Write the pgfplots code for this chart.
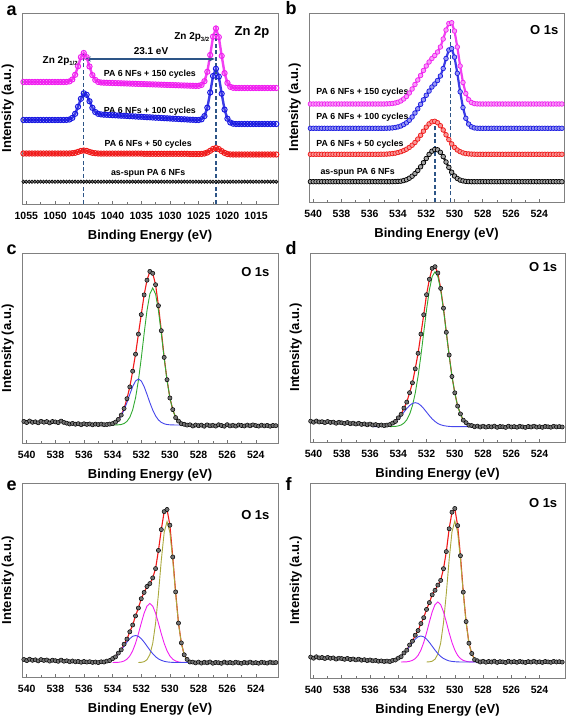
\documentclass[border=0pt]{standalone}
\usepackage{fontspec}
\setmainfont{Liberation Sans}
\usepackage{pgfplots}
\pgfplotsset{compat=1.18}
\usepackage{pgfplotstable}
\usetikzlibrary{arrows.meta}

\definecolor{cmag}{RGB}{240,30,240}
\definecolor{cblue}{RGB}{25,25,225}
\definecolor{cred}{RGB}{240,25,25}
\definecolor{cgreen}{RGB}{50,170,50}
\definecolor{colive}{RGB}{170,168,60}
\definecolor{ccomp}{RGB}{70,70,235}
\definecolor{cdash}{RGB}{45,85,135}

\newcommand{\fA}{\bfseries\fontsize{8.8}{10}\selectfont}
\newcommand{\fB}{\bfseries\fontsize{13}{15}\selectfont}
\newcommand{\fZ}{\bfseries\fontsize{10}{12}\selectfont}
\newcommand{\fL}{\bfseries\fontsize{18}{18}\selectfont}
\newcommand{\sub}[1]{\raisebox{-0.45ex}{\fontsize{6}{6}\selectfont #1}}

\pgfplotsset{
  xps/.style={
    scale only axis, x dir=reverse, ymin=0, ytick=\empty,
    axis line style={draw=black!50, line width=0.9pt},
    tick style={black!55, line width=0.6pt},
    xtick pos=lower, tick align=inside, major tick length=3pt, minor tick length=1.8pt,
    minor x tick num=1,
    xticklabel style={font=\bfseries\fontsize{10.5}{12}\selectfont, anchor=center, yshift=-12pt},
    /pgf/number format/assume math mode=true,
    /pgf/number format/1000 sep={},
    xlabel={Binding Energy (eV)}, ylabel={Intensity (a.u.)},
    label style={font=\bfseries\fontsize{13}{15}\selectfont},
    xlabel style={at={(axis description cs:0.5,0)}, anchor=center, yshift=-32pt},
    ylabel style={at={(axis description cs:-0.056,0.5)}, anchor=center},
  },
  o1s/.style={xps, xtick={540,538,...,524}},
  dots/.style={only marks, mark=*, mark size=2.1pt, mark options={draw=black, fill=black!55, line width=0.5pt}},
  fit/.style={cred, line width=1.1pt},
  comp/.style={line width=0.9pt},
  bandA/.style={draw=#1!85, line width=2.4pt, mark=o, mark size=2.6pt, mark options={draw=#1, line width=1.0pt}},
  bandB/.style={draw=#1!85, line width=2.2pt, mark=*, mark size=2.3pt, mark options={draw=#1, fill=#1!45, line width=0.7pt}},
}

% ---------- panel a ----------
\pgfplotstableread{
x k r b m
1055.5 22.3 50.5 84.0 122.0
1055.0 22.3 50.5 84.0 122.0
1054.5 22.3 50.5 84.0 122.0
1054.0 22.3 50.5 84.0 122.0
1053.5 22.3 50.5 84.0 122.0
1053.0 22.3 50.5 84.0 122.0
1052.5 22.3 50.5 84.0 122.0
1052.0 22.3 50.5 84.0 122.0
1051.5 22.3 50.5 84.0 122.0
1051.0 22.3 50.5 84.0 122.0
1050.5 22.3 50.5 84.0 122.0
1050.0 22.3 50.5 84.0 122.0
1049.5 22.3 50.5 84.0 122.0
1049.0 22.3 50.5 84.0 122.0
1048.5 22.3 50.5 84.0 122.0
1048.0 22.3 50.5 84.1 122.1
1047.5 22.3 50.5 84.5 122.6
1047.0 22.3 50.8 86.1 124.5
1046.5 22.3 51.2 90.2 129.2
1046.0 22.3 52.1 97.3 137.7
1045.5 22.3 53.1 105.2 146.9
1045.0 22.3 53.5 110.7 151.0
1044.5 22.3 53.1 109.2 146.8
1044.0 22.3 52.1 102.8 137.5
1043.5 22.3 51.2 96.2 128.9
1043.0 22.3 50.8 92.0 124.1
1042.5 22.3 50.5 90.2 122.1
1042.0 22.3 50.4 89.6 121.5
1041.5 22.3 50.4 89.3 121.3
1041.0 22.3 50.4 89.2 121.2
1040.5 22.3 50.4 89.0 121.1
1040.0 22.3 50.4 88.8 121.0
1039.5 22.3 50.4 88.7 120.9
1039.0 22.3 50.4 88.5 120.8
1038.5 22.3 50.4 88.3 120.7
1038.0 22.3 50.4 88.2 120.6
1037.5 22.3 50.4 88.0 120.5
1037.0 22.3 50.4 87.8 120.4
1036.5 22.3 50.4 87.7 120.3
1036.0 22.3 50.4 87.5 120.2
1035.5 22.3 50.4 87.3 120.1
1035.0 22.3 50.4 87.2 120.0
1034.5 22.3 50.2 87.0 119.9
1034.0 22.3 50.2 86.8 119.8
1033.5 22.3 50.2 86.7 119.7
1033.0 22.3 50.2 86.5 119.6
1032.5 22.3 50.2 86.3 119.5
1032.0 22.3 50.2 86.2 119.4
1031.5 22.3 50.2 86.0 119.3
1031.0 22.3 50.2 85.8 119.2
1030.5 22.3 50.2 85.7 119.1
1030.0 22.3 50.2 85.5 119.0
1029.5 22.3 50.2 85.3 118.9
1029.0 22.3 50.2 85.2 118.8
1028.5 22.3 50.2 85.0 118.7
1028.0 22.3 50.2 84.8 118.6
1027.5 22.3 50.2 84.7 118.5
1027.0 22.3 50.2 84.5 118.4
1026.5 22.3 50.0 84.3 118.3
1026.0 22.3 50.0 84.2 118.2
1025.5 22.3 50.0 84.0 118.1
1025.0 22.3 50.0 84.0 118.2
1024.5 22.3 50.1 84.7 119.1
1024.0 22.3 50.5 87.9 122.8
1023.5 22.3 51.5 96.3 132.2
1023.0 22.3 53.2 111.5 149.0
1022.5 22.3 55.1 128.0 167.3
1022.0 22.3 55.9 135.2 175.5
1021.5 22.3 54.9 127.4 166.9
1021.0 22.3 52.9 110.3 148.1
1020.5 22.3 51.1 94.4 130.9
1020.0 22.3 50.0 85.3 121.1
1019.5 22.3 49.6 81.5 117.2
1019.0 22.3 49.5 80.3 116.2
1018.5 22.3 49.5 80.0 116.0
1018.0 22.3 49.5 80.0 116.0
1017.5 22.3 49.5 80.0 116.0
1017.0 22.3 49.5 80.0 116.0
1016.5 22.3 49.5 80.0 116.0
1016.0 22.3 49.5 80.0 116.0
1015.5 22.3 49.5 80.0 116.0
1015.0 22.3 49.5 80.0 116.0
1014.5 22.3 49.5 80.0 116.0
1014.0 22.3 49.5 80.0 116.0
1013.5 22.3 49.5 80.0 116.0
1013.0 22.3 49.5 80.0 116.0
1012.5 22.3 49.5 80.0 116.0
1012.0 22.3 49.5 80.0 116.0
1011.5 22.3 49.5 80.0 116.0
}\tabA

% ---------- panel b ----------
\pgfplotstableread{
x k r b m
540.2 20.3 47.7 73.7 98.0
540.0 20.3 47.7 73.7 98.0
539.8 20.3 47.7 73.7 98.0
539.6 20.3 47.7 73.7 98.0
539.4 20.3 47.7 73.7 98.0
539.2 20.3 47.7 73.7 98.0
539.0 20.3 47.7 73.7 98.0
538.8 20.3 47.7 73.7 98.0
538.6 20.3 47.7 73.7 98.0
538.4 20.3 47.7 73.7 98.0
538.2 20.3 47.7 73.7 98.0
538.0 20.3 47.7 73.7 98.0
537.8 20.3 47.7 73.7 98.0
537.6 20.3 47.7 73.7 98.0
537.4 20.3 47.7 73.7 98.0
537.2 20.3 47.7 73.7 98.0
537.0 20.3 47.7 73.7 98.0
536.8 20.3 47.7 73.7 98.0
536.6 20.3 47.7 73.7 98.0
536.4 20.3 47.7 73.7 98.0
536.2 20.3 47.7 73.7 98.0
536.0 20.3 47.7 73.7 98.0
535.8 20.3 47.7 73.7 98.0
535.6 20.3 47.7 73.7 98.0
535.4 20.3 47.7 73.7 98.0
535.2 20.3 47.8 73.7 98.0
535.0 20.3 47.8 73.7 98.0
534.8 20.3 47.9 73.8 98.1
534.6 20.3 48.1 73.9 98.2
534.4 20.3 48.4 74.1 98.5
534.2 20.4 48.8 74.5 99.0
534.0 20.6 49.5 75.1 99.8
533.8 20.8 50.3 76.0 101.0
533.6 21.4 51.4 77.4 103.0
533.4 22.3 52.8 79.2 105.5
533.2 23.8 54.6 81.7 109.0
533.0 25.8 56.8 85.0 113.0
532.8 28.4 59.5 89.0 117.5
532.6 31.5 62.9 93.2 122.0
532.4 35.2 66.7 97.7 126.5
532.2 39.3 70.8 102.2 131.5
532.0 43.5 74.8 106.7 136.0
531.8 47.6 78.1 110.9 140.0
531.6 50.8 80.2 115.0 143.5
531.4 52.5 80.7 118.0 146.5
531.2 52.2 79.3 121.5 150.0
531.0 49.7 76.3 126.0 155.0
530.8 45.4 72.0 133.5 163.0
530.6 40.0 67.2 143.5 172.0
530.4 34.6 62.4 152.0 178.5
530.2 29.8 58.1 153.4 179.3
530.0 26.0 54.6 144.9 171.0
529.8 23.5 52.0 128.7 155.0
529.6 21.9 50.3 110.2 136.0
529.4 21.1 49.1 94.4 119.5
529.2 20.6 48.4 83.7 108.5
529.0 20.4 48.1 77.9 102.3
528.8 20.3 47.9 75.2 99.5
528.6 20.3 47.8 74.1 98.4
528.4 20.3 47.7 73.8 98.1
528.2 20.3 47.7 73.7 98.0
528.0 20.3 47.7 73.7 98.0
527.8 20.3 47.7 73.7 98.0
527.6 20.3 47.7 73.7 98.0
527.4 20.3 47.7 73.7 98.0
527.2 20.3 47.7 73.7 98.0
527.0 20.3 47.7 73.7 98.0
526.8 20.3 47.7 73.7 98.0
526.6 20.3 47.7 73.7 98.0
526.4 20.3 47.7 73.7 98.0
526.2 20.3 47.7 73.7 98.0
526.0 20.3 47.7 73.7 98.0
525.8 20.3 47.7 73.7 98.0
525.6 20.3 47.7 73.7 98.0
525.4 20.3 47.7 73.7 98.0
525.2 20.3 47.7 73.7 98.0
525.0 20.3 47.7 73.7 98.0
524.8 20.3 47.7 73.7 98.0
524.6 20.3 47.7 73.7 98.0
524.4 20.3 47.7 73.7 98.0
524.2 20.3 47.7 73.7 98.0
524.0 20.3 47.7 73.7 98.0
523.8 20.3 47.7 73.7 98.0
523.6 20.3 47.7 73.7 98.0
523.4 20.3 47.7 73.7 98.0
523.2 20.3 47.7 73.7 98.0
523.0 20.3 47.7 73.7 98.0
522.8 20.3 47.7 73.7 98.0
522.6 20.3 47.7 73.7 98.0
522.4 20.3 47.7 73.7 98.0
}\tabB

% ---------- panels c-f (measured data) ----------
\pgfplotstableread{
x c d e f
540.2 21.6 20.8 17.5 20.9
540.0 20.5 19.8 16.4 19.8
539.8 22.0 21.0 17.8 21.2
539.6 20.7 20.0 16.7 20.1
539.4 21.2 20.3 17.2 20.5
539.2 20.2 19.4 16.1 19.5
539.0 21.7 20.5 17.4 20.6
538.8 20.8 19.6 16.6 19.7
538.6 21.4 19.9 17.0 20.1
538.4 20.1 18.8 15.9 18.9
538.2 21.5 19.7 16.8 19.8
538.0 21.1 19.2 16.3 19.4
537.8 20.4 18.6 15.7 18.7
537.6 21.9 19.5 16.9 19.6
537.4 20.6 18.3 15.8 18.5
537.2 19.8 18.8 16.2 19.0
537.0 19.0 18.0 15.3 18.1
536.8 19.6 18.7 16.0 18.8
536.6 18.8 17.6 15.2 17.8
536.4 19.3 18.1 15.6 18.3
536.2 18.3 17.2 14.8 17.4
536.0 19.2 17.9 15.5 18.0
535.8 18.6 17.0 14.9 17.2
535.6 19.0 17.4 15.3 17.6
535.4 18.2 16.6 14.6 16.8
535.2 18.9 17.0 15.0 17.1
535.0 18.4 16.4 14.4 16.5
534.8 18.9 16.9 15.2 16.9
534.6 18.3 17.4 15.0 16.4
534.4 18.5 18.9 15.9 17.6
534.2 18.9 20.6 16.5 18.0
534.0 19.4 24.2 18.4 19.9
533.8 20.9 27.7 20.1 21.3
533.6 23.6 33.9 23.9 25.0
533.4 27.9 39.9 27.2 27.8
533.2 34.5 49.3 32.8 33.0
533.0 44.3 59.2 37.9 36.8
532.8 56.1 73.2 45.2 42.8
532.6 71.8 88.7 52.0 47.5
532.4 88.8 107.9 61.1 54.4
532.2 108.9 127.2 69.0 60.3
532.0 128.4 147.3 78.3 68.6
531.8 148.1 162.7 84.6 75.4
531.6 162.8 173.7 90.5 83.2
531.4 171.6 175.3 93.4 87.7
531.2 169.7 169.0 99.1 92.9
531.0 158.3 153.6 108.4 97.6
530.8 137.3 133.8 126.6 109.3
530.6 112.3 109.7 147.4 126.4
530.4 85.6 87.0 165.4 149.2
530.2 63.3 65.5 167.5 165.8
530.0 45.0 49.2 151.8 169.5
529.8 33.4 35.9 120.0 152.4
529.6 25.4 28.1 85.1 122.3
529.4 21.9 21.8 53.9 85.9
529.2 19.3 19.3 34.1 56.4
529.0 18.7 16.8 22.2 34.8
528.8 17.9 16.4 17.6 24.5
528.6 18.2 15.3 15.0 18.4
528.4 17.0 15.9 14.9 17.2
528.2 18.0 15.0 14.1 16.0
528.0 17.3 15.8 14.9 16.7
527.8 17.9 14.9 13.9 15.8
527.6 16.8 15.6 14.7 16.5
527.4 18.1 15.1 14.2 16.0
527.2 17.2 15.9 15.0 16.8
527.0 17.7 14.7 13.8 15.6
526.8 16.9 15.5 14.6 16.4
526.6 18.2 15.2 14.3 16.1
526.4 17.5 14.6 13.7 15.5
526.2 16.8 15.8 14.9 16.7
526.0 18.3 15.0 14.1 15.9
525.8 17.1 15.4 14.6 16.4
525.6 17.7 14.8 13.9 15.7
525.4 16.9 15.7 14.8 16.6
525.2 18.0 15.1 14.2 16.0
525.0 17.5 14.6 13.7 15.5
524.8 17.0 15.5 14.6 16.4
524.6 17.9 15.0 14.1 15.9
524.4 17.2 15.8 14.9 16.7
524.2 18.1 14.9 14.0 15.8
524.0 17.4 15.3 14.4 16.2
523.8 16.9 14.7 13.8 15.6
523.6 17.8 15.6 14.7 16.5
523.4 17.1 15.2 14.3 16.1
523.2 17.6 14.8 13.9 15.7
523.0 16.8 15.7 14.8 16.6
522.8 17.5 15.1 14.2 16.0
522.6 17.3 15.4 14.5 16.3
522.4 17.3 15.0 14.5 15.9
}\tabO

\begin{document}
\begin{tikzpicture}
\useasboundingbox (0pt,0pt) rectangle (567pt,721pt);

% ===== a =====
\begin{axis}[xps, at={(22pt,517pt)}, anchor=south west, width=256pt, height=191pt,
  xmin=1011.2, xmax=1055.75, ymax=191, xtick={1055,1050,...,1015}]
\addplot[black, line width=0.6pt, mark=*, mark size=1.7pt, mark options={draw=black, fill=black!50}] table[x=x,y=k]{\tabA};
\addplot[bandA=cred] table[x=x,y=r]{\tabA};
\addplot[bandA=cblue] table[x=x,y=b]{\tabA};
\addplot[bandA=cmag] table[x=x,y=m]{\tabA};
\draw[cdash, line width=1.2pt, dash pattern=on 4pt off 2.5pt] (axis cs:1045,0) -- (axis cs:1045,150);
\draw[cdash, line width=1.2pt, dash pattern=on 4pt off 2.5pt] (axis cs:1022,0) -- (axis cs:1022,170);
\draw[cdash, line width=1.1pt, {Stealth[length=6pt,width=5pt]}-{Stealth[length=6pt,width=5pt]}] (axis cs:1044.8,145) -- (axis cs:1022.2,145);
\node[font=\fZ] at (axis cs:1033.3,152.5) {23.1 eV};
\node[font=\fB, anchor=east] at (axis cs:1012.1,172) {Zn 2p};
\node[font=\fZ] at (axis cs:1026.2,167) {Zn 2p\sub{3/2}};
\node[font=\fZ] at (axis cs:1049.1,143) {Zn 2p\sub{1/2}};
\node[font=\fA] at (axis cs:1033.5,130) {PA 6 NFs + 150 cycles};
\node[font=\fA] at (axis cs:1033.5,93) {PA 6 NFs + 100 cycles};
\node[font=\fA] at (axis cs:1033.8,60) {PA 6 NFs + 50 cycles};
\node[font=\fA] at (axis cs:1033.8,31) {as-spun PA 6 NFs};
\end{axis}

% ===== b =====
\begin{axis}[o1s, at={(309pt,519pt)}, anchor=south west, width=255pt, height=189pt,
  xmin=522.25, xmax=540.3, ymax=189]
\addplot[draw=black!85, line width=2.2pt, mark=*, mark size=2.3pt, mark options={draw=black, fill=black!35, line width=0.7pt}] table[x=x,y=k]{\tabB};
\addplot[bandB=cred] table[x=x,y=r]{\tabB};
\addplot[bandB=cblue] table[x=x,y=b]{\tabB};
\addplot[bandB=cmag] table[x=x,y=m]{\tabB};
\draw[cdash, line width=1.2pt, dash pattern=on 4pt off 2.5pt] (axis cs:531.38,0) -- (axis cs:531.38,80);
\draw[cdash, line width=1.2pt, dash pattern=on 4pt off 2.5pt] (axis cs:530.27,0) -- (axis cs:530.27,180);
\node[font=\fB, anchor=east] at (axis cs:522.4,172) {O 1s};
\node[font=\fA, anchor=west] at (axis cs:540.02,110) {PA 6 NFs + 150 cycles};
\node[font=\fA, anchor=west] at (axis cs:540.02,84.5) {PA 6 NFs + 100 cycles};
\node[font=\fA, anchor=west] at (axis cs:540.02,57.5) {PA 6 NFs + 50 cycles};
\node[font=\fA, anchor=west] at (axis cs:539.73,30) {as-spun PA 6 NFs};
\end{axis}

% ===== c =====
\begin{axis}[o1s, at={(22pt,278pt)}, anchor=south west, width=256pt, height=190pt,
  xmin=522.45, xmax=540.33, ymax=190]
\addplot[dots] table[x=x,y=c]{\tabO};
\addplot[fit] table[x=x,y=c]{\tabO};
\addplot[comp, cgreen] table{
534.4 18.0
533.8 18.0
533.6 18.2
533.4 18.5
533.2 19.5
533.0 21.6
532.8 25.7
532.6 33.1
532.4 45.1
532.2 62.5
532.0 84.7
531.8 109.4
531.6 132.4
531.4 149.0
531.2 155.0
531.0 149.0
530.8 132.4
530.6 109.4
530.4 84.7
530.2 62.5
530.0 45.1
529.8 33.1
529.6 25.7
529.4 21.6
529.2 19.5
529.0 18.5
528.8 18.2
528.6 18.0
528.2 18.0
};
\addplot[comp, ccomp] table{
535.6 18.0
534.8 18.0
534.6 18.1
534.4 18.2
534.2 18.5
534.0 19.2
533.8 20.6
533.6 23.1
533.4 27.1
533.2 33.0
533.0 40.4
532.8 48.7
532.6 56.4
532.4 62.0
532.2 64.0
532.0 62.0
531.8 56.4
531.6 48.7
531.4 40.4
531.2 33.0
531.0 27.1
530.8 23.1
530.6 20.6
530.4 19.2
530.2 18.5
530.0 18.2
529.8 18.1
529.6 18.0
527.0 18.0
};
\node[font=\fB, anchor=east] at (axis cs:522.8,171) {O 1s};
\end{axis}

% ===== d =====
\begin{axis}[o1s, at={(310pt,279pt)}, anchor=south west, width=255pt, height=189pt,
  xmin=522.2, xmax=540.25, ymax=189]
\addplot[dots] table[x=x,y=d]{\tabO};
\addplot[fit] table[x=x,y=d]{\tabO};
\addplot[comp, cgreen] table{
534.6 15.3
534.4 15.5
534.2 15.6
534.0 16.1
533.8 17.0
533.6 18.9
533.4 22.1
533.2 27.7
533.0 36.2
532.8 48.8
532.6 65.7
532.4 86.3
532.2 109.4
532.0 132.3
531.8 152.0
531.6 165.5
531.4 170.3
531.2 165.5
531.0 152.0
530.8 132.3
530.6 109.4
530.4 86.3
530.2 65.7
530.0 48.8
529.8 36.2
529.6 27.7
529.4 22.1
529.2 18.9
529.0 17.0
528.8 16.1
528.6 15.6
528.4 15.5
528.2 15.3
};
\addplot[comp, ccomp] table{
535.8 15.3
535.6 15.3
535.4 15.4
535.2 15.6
535.0 15.9
534.8 16.4
534.6 17.2
534.4 18.5
534.2 20.5
534.0 23.1
533.8 26.3
533.6 29.9
533.4 33.4
533.2 36.5
533.0 38.6
532.8 39.3
532.6 38.6
532.4 36.5
532.2 33.4
532.0 29.9
531.8 26.3
531.6 23.1
531.4 20.5
531.2 18.5
531.0 17.2
530.8 16.4
530.6 15.9
530.4 15.6
530.2 15.4
530.0 15.3
528.0 15.3
};
\node[font=\fB, anchor=east] at (axis cs:522.5,175) {O 1s};
\end{axis}

% ===== e =====
\begin{axis}[o1s, at={(22pt,44pt)}, anchor=south west, width=256pt, height=194pt,
  xmin=522.45, xmax=540.33, ymax=194]
\addplot[dots] table[x=x,y=e]{\tabO};
\addplot[fit] table[x=x,y=e]{\tabO};
\addplot[comp, colive] table{
532.2 14.5
532.0 14.7
531.8 15.3
531.6 17.3
531.4 22.4
531.2 33.5
531.0 53.7
530.8 83.2
530.6 116.9
530.4 144.6
530.2 155.5
530.0 144.6
529.8 116.9
529.6 83.2
529.4 53.7
529.2 33.5
529.0 22.4
528.8 17.3
528.6 15.3
528.4 14.7
528.2 14.5
};
\addplot[comp, cmag] table{
534.0 14.5
533.8 14.6
533.6 14.7
533.4 15.1
533.2 16.0
533.0 17.8
532.8 21.0
532.6 26.2
532.4 33.7
532.2 43.2
532.0 53.9
531.8 63.8
531.6 70.9
531.4 73.5
531.2 70.9
531.0 63.8
530.8 53.9
530.6 43.2
530.4 33.7
530.2 26.2
530.0 21.0
529.8 17.8
529.6 16.0
529.4 15.1
529.2 14.7
529.0 14.6
528.8 14.5
};
\addplot[comp, ccomp] table{
535.4 14.5
535.0 14.6
534.8 14.8
534.6 15.1
534.4 15.7
534.2 16.7
534.0 18.1
533.8 20.3
533.6 23.3
533.4 26.9
533.2 30.9
533.0 34.9
532.8 38.3
532.6 40.7
532.4 41.5
532.2 40.7
532.0 38.3
531.8 34.9
531.6 30.9
531.4 26.9
531.2 23.3
531.0 20.3
530.8 18.1
530.6 16.7
530.4 15.7
530.2 15.1
530.0 14.8
529.8 14.6
529.6 14.5
527.6 14.5
};
\node[font=\fB, anchor=east] at (axis cs:522.8,162) {O 1s};
\end{axis}

% ===== f =====
\begin{axis}[o1s, at={(310pt,43pt)}, anchor=south west, width=255pt, height=195pt,
  xmin=522.2, xmax=540.25, ymax=195]
\addplot[dots] table[x=x,y=f]{\tabO};
\addplot[fit] table[x=x,y=f]{\tabO};
\addplot[comp, colive] table{
532.0 16.0
531.8 16.2
531.6 16.8
531.4 18.8
531.2 23.9
531.0 35.0
530.8 55.2
530.6 84.7
530.4 118.4
530.2 146.1
530.0 157.0
529.8 146.1
529.6 118.4
529.4 84.7
529.2 55.2
529.0 35.0
528.8 23.9
528.6 18.8
528.4 16.8
528.2 16.2
528.0 16.0
};
\addplot[comp, cmag] table{
533.8 16.0
533.6 16.1
533.4 16.2
533.2 16.7
533.0 17.6
532.8 19.4
532.6 22.6
532.4 27.9
532.2 35.5
532.0 45.2
531.8 56.0
531.6 66.1
531.4 73.4
531.2 76.0
531.0 73.4
530.8 66.1
530.6 56.0
530.4 45.2
530.2 35.5
530.0 27.9
529.8 22.6
529.6 19.4
529.4 17.6
529.2 16.7
529.0 16.2
528.8 16.1
528.6 16.0
};
\addplot[comp, ccomp] table{
535.4 16.0
535.0 16.1
534.8 16.3
534.6 16.6
534.4 17.1
534.2 18.1
534.0 19.5
533.8 21.6
533.6 24.5
533.4 27.9
533.2 31.8
533.0 35.6
532.8 38.9
532.6 41.2
532.4 42.0
532.2 41.2
532.0 38.9
531.8 35.6
531.6 31.8
531.4 27.9
531.2 24.5
531.0 21.6
530.8 19.5
530.6 18.1
530.4 17.1
530.2 16.6
530.0 16.3
529.8 16.1
529.6 16.0
527.4 16.0
};
\node[font=\fB, anchor=east] at (axis cs:522.5,175) {O 1s};
\end{axis}

% panel letters
\node[font=\fL, anchor=base west] at (3pt,705pt) {a};
\node[font=\fL, anchor=base west] at (282pt,706pt) {b};
\node[font=\fL, anchor=base west] at (3pt,466pt) {c};
\node[font=\fL, anchor=base west] at (282pt,466pt) {d};
\node[font=\fL, anchor=base west] at (3pt,230pt) {e};
\node[font=\fL, anchor=base west] at (282pt,230pt) {f};
\end{tikzpicture}
\end{document}
